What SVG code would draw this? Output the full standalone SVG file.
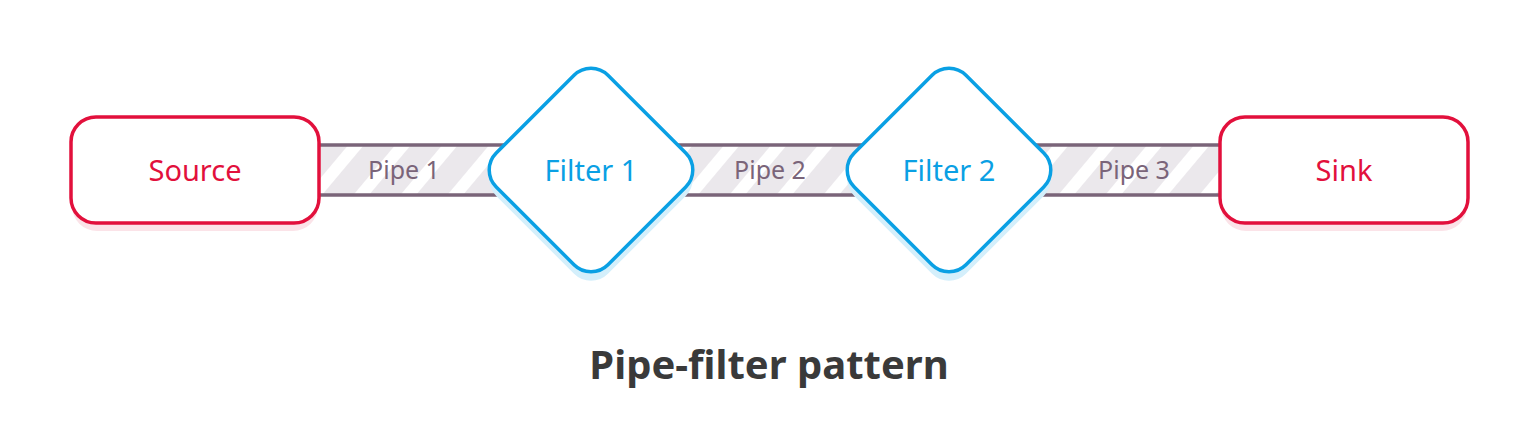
<svg xmlns="http://www.w3.org/2000/svg" width="1538" height="439" viewBox="0 0 1538 439">
<defs>
<pattern id="stripes" patternUnits="userSpaceOnUse" width="36" height="36" patternTransform="rotate(40)">
<rect width="36" height="36" fill="#ebe8ec"/>
<rect width="12" height="36" fill="#ffffff"/>
</pattern>
<style>
.pipe{fill:url(#stripes);}
.pipeline{stroke:#7a6479;stroke-width:3.5;fill:none;}
.pl{font-family:"Noto Sans","Open Sans",sans-serif;font-size:25px;fill:#7a6479;text-anchor:middle;}
.box{fill:#ffffff;stroke:#e2103c;stroke-width:3.5;}
.boxsh{fill:#fbe3e8;}
.dia{fill:#ffffff;stroke:#0aa0e4;stroke-width:3.5;}
.diash{fill:#d4effb;}
.bt{font-family:"Noto Sans","Open Sans",sans-serif;font-size:29px;fill:#e2103c;text-anchor:middle;}
.dt{font-family:"Noto Sans","Open Sans",sans-serif;font-size:29px;fill:#0aa0e4;text-anchor:middle;}
.title{font-family:"Noto Sans","Open Sans",sans-serif;font-size:40px;font-weight:bold;fill:#3a3a3a;text-anchor:middle;}
</style>
</defs>
<rect width="1538" height="439" fill="#ffffff"/>
<g id="connectors">
<g id="pipe1">
<rect class="pipe" x="319" y="145" width="272" height="50"/>
<line class="pipeline" x1="319" y1="145" x2="591" y2="145"/>
<line class="pipeline" x1="319" y1="195" x2="591" y2="195"/>
</g>
<g id="pipe2">
<rect class="pipe" x="591" y="145" width="358" height="50"/>
<line class="pipeline" x1="591" y1="145" x2="949" y2="145"/>
<line class="pipeline" x1="591" y1="195" x2="949" y2="195"/>
</g>
<g id="pipe3">
<rect class="pipe" x="949" y="145" width="271" height="50"/>
<line class="pipeline" x1="949" y1="145" x2="1220" y2="145"/>
<line class="pipeline" x1="949" y1="195" x2="1220" y2="195"/>
</g>
<text class="pl" x="404" y="179">Pipe 1</text>
<text class="pl" x="770" y="179">Pipe 2</text>
<text class="pl" x="1134" y="179">Pipe 3</text>
</g>
<g id="source">
<rect class="boxsh" x="72" y="125" width="246" height="106" rx="25"/>
<rect class="box" x="71" y="117" width="248" height="106" rx="25"/>
<text class="bt" x="195" y="181">Source</text>
</g>
<g id="filter1">
<rect class="diash" x="-79" y="-79" width="158" height="158" rx="24" transform="translate(591,179) rotate(45)"/>
<rect class="dia" x="-79" y="-79" width="158" height="158" rx="24" transform="translate(591,170) rotate(45)"/>
<text class="dt" x="591" y="181">Filter 1</text>
</g>
<g id="filter2">
<rect class="diash" x="-79" y="-79" width="158" height="158" rx="24" transform="translate(949,179) rotate(45)"/>
<rect class="dia" x="-79" y="-79" width="158" height="158" rx="24" transform="translate(949,170) rotate(45)"/>
<text class="dt" x="949" y="181">Filter 2</text>
</g>
<g id="sink">
<rect class="boxsh" x="1221" y="125" width="246" height="106" rx="25"/>
<rect class="box" x="1220" y="117" width="248" height="106" rx="25"/>
<text class="bt" x="1344" y="181">Sink</text>
</g>
<text class="title" x="769" y="379">Pipe-filter pattern</text>
</svg>
